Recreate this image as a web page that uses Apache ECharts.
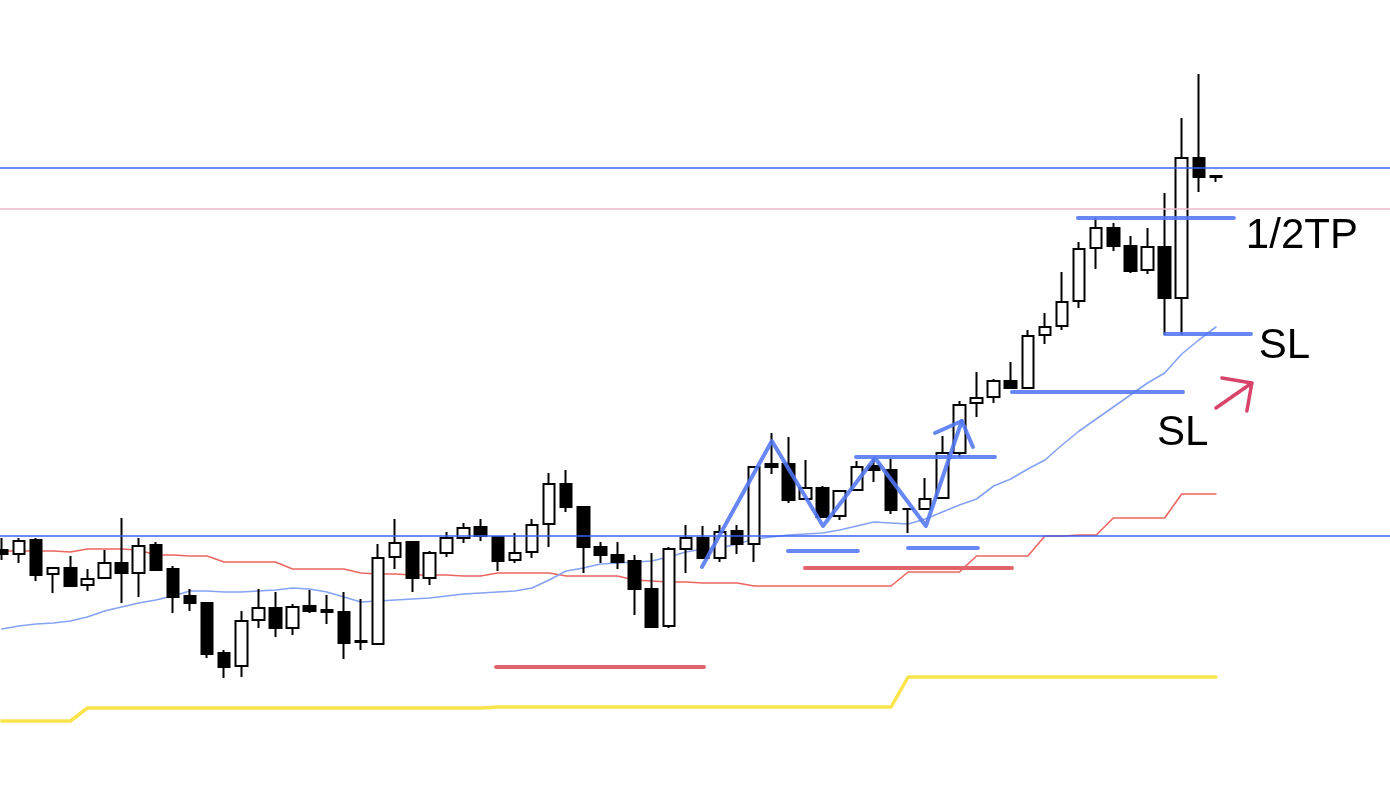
<!DOCTYPE html>
<html>
<head>
<meta charset="utf-8">
<title>chart</title>
<style>
  html, body { margin: 0; padding: 0; background: #fff; }
  #chart { width: 1390px; height: 788px; }
</style>
<script src="https://cdn.jsdelivr.net/npm/echarts@6/dist/echarts.min.js"></script>
</head>
<body>
<div id="chart"></div>
<script>
// bars: [open, close, low, high], x = bar index
const candles = [
  [238, 234, 228, 250], [234, 247, 225, 250], [248, 213, 207, 250], [214, 220, 195, 221],
  [220, 202, 202, 232], [203, 209, 197, 219], [210, 225, 210, 238], [225, 215, 185, 270],
  [215, 242, 191, 250], [243, 218, 218, 246], [219, 191, 175, 222], [192, 185, 177, 199],
  [185, 134, 130, 185], [135, 121, 110, 138], [122, 167, 111, 177], [168, 180, 160, 199],
  [180, 160, 151, 196], [160, 181, 153, 184], [182, 177, 175, 198], [178, 176, 164, 193],
  [176, 145, 129, 196], [146, 147, 138, 189], [144, 230, 144, 244], [231, 245, 219, 269],
  [246, 210, 196, 246], [210, 235, 203, 237], [235, 250, 231, 256], [250, 260, 245, 265],
  [261, 252, 247, 269], [251, 227, 217, 251], [228, 235, 225, 255], [236, 263, 230, 269],
  [264, 304, 241, 315], [304, 281, 276, 318], [281, 241, 215, 281], [241, 233, 225, 246],
  [233, 226, 219, 246], [227, 199, 173, 233], [199, 161, 161, 235], [162, 239, 160, 241],
  [239, 250, 215, 263], [250, 230, 230, 262], [230, 256, 226, 263], [257, 244, 234, 263],
  [244, 321, 226, 321], [324, 321, 314, 355], [324, 288, 285, 351], [289, 300, 289, 328],
  [300, 271, 271, 302], [272, 297, 268, 297], [298, 321, 298, 327], [322, 318, 306, 330],
  [318, 278, 274, 329], [279, 279, 255, 280], [279, 289, 279, 310], [290, 335, 290, 352],
  [335, 383, 331, 387], [385, 390, 371, 416], [391, 407, 385, 409], [407, 400, 400, 426],
  [400, 452, 400, 458], [453, 461, 444, 475], [462, 486, 458, 516], [487, 539, 480, 546],
  [540, 560, 519, 570], [560, 542, 537, 565], [542, 517, 515, 552], [518, 541, 514, 560],
  [541, 490, 453, 595], [490, 630, 453, 670], [630, 611, 596, 714], [612, 611, 606, 612]
];

const redLine = [
  237, 237, 237, 237, 236, 239, 239, 239, 238, 233, 233, 232, 232, 226, 226, 226,
  226, 219, 219, 219, 219, 215, 214, 214, 213, 213, 213, 212, 212, 215, 215, 215,
  215, 212, 212, 212, 212, 208, 207, 206, 206, 205, 205, 205, 202, 202, 202, 202,
  202, 202, 202, 202, 202, 216, 216, 216, 216, 232, 232, 232, 232, 252, 252, 253,
  253, 270, 270, 270, 270, 294, 294, 294
];

const blueLine = [
  159, 162, 164, 165, 167, 171, 177, 181, 185, 188, 192, 197, 197, 196, 196, 197,
  198, 200, 199, 196, 191, 186, 187, 188, 189, 190, 192, 194, 195, 196, 197, 200,
  208, 217, 220, 224, 225, 226, 227, 231, 236, 239, 240, 244, 249, 251, 253, 254,
  255, 258, 262, 266, 265, 264, 269, 276, 283, 289, 302, 309, 319, 328, 343, 357,
  369, 381, 393, 405, 415, 434, 448, 461
];

const yellowLine = [
  67, 67, 67, 67, 67, 80, 80, 80, 80, 80, 80, 80, 80, 80, 80, 80,
  80, 80, 80, 80, 80, 80, 80, 80, 80, 80, 80, 80, 80, 81, 81, 81,
  81, 81, 81, 81, 81, 81, 81, 81, 81, 81, 81, 81, 81, 81, 81, 81,
  81, 81, 81, 81, 81, 111, 111, 111, 111, 111, 111, 111, 111, 111, 111, 111,
  111, 111, 111, 111, 111, 111, 111, 111
];

const blueLevels = [620, 252];
const pinkLevels = [579];

// [fromX, toX, y]
const blueSegments = [
  [45.97, 50.06, 237], [52.99, 57.08, 240], [49.95, 58.08, 331],
  [59.07, 69.07, 396], [62.93, 72.05, 570], [68.02, 73.05, 454]
];
const redSegments = [[28.9, 41.06, 121], [46.96, 59.07, 220]];

const zigzag = [[40.94, 221], [45.03, 347], [48.02, 262], [51.06, 330], [54.04, 262], [56.14, 367]];
const zigzagHead = [[54.57, 355], [56.14, 367], [56.79, 341]];
const redArrow = [[71.0, 380], [73.1, 405]];
const redArrowHead = [[71.35, 410], [73.1, 405], [72.81, 377]];

const labels = [
  { text: '1/2TP', x: 72.75, y: 552 },
  { text: 'SL', x: 73.51, y: 442 },
  { text: 'SL', x: 67.55, y: 355 }
];

const chart = echarts.init(document.getElementById('chart'));

const penBlue = 'rgba(82, 120, 242, 0.88)';
const penRed = '#e0646a';

function stroke(points, color, width, z) {
  return {
    type: 'line',
    data: points,
    showSymbol: false,
    silent: true,
    z: z,
    lineStyle: { color: color, width: width, cap: 'round', join: 'round' }
  };
}

const series = [
  stroke(yellowLine.map((v, i) => [i, v]), '#f9e44c', 3.5, 2),
  stroke(redLine.map((v, i) => [i, v]), '#ec665f', 1.6, 2),
  stroke(blueLine.map((v, i) => [i, v]), '#85a2f5', 1.6, 2),
  {
    type: 'candlestick',
    data: candles.map((c, i) => [i].concat(c)),
    encode: { x: 0, y: [1, 2, 3, 4] },
    barWidth: 12,
    z: 3,
    itemStyle: {
      color: '#ffffff',
      color0: '#000000',
      borderColor: '#000000',
      borderColor0: '#000000',
      borderWidth: 2
    },
    markLine: {
      silent: true,
      symbol: 'none',
      z: 4,
      label: { show: false },
      data: blueLevels.map(v => ({ yAxis: v, lineStyle: { color: '#3d5ff0', width: 1.5, type: 'solid' } }))
        .concat(pinkLevels.map(v => ({ yAxis: v, lineStyle: { color: '#eebccc', width: 1.5, type: 'solid' } })))
    }
  }
];

redSegments.forEach(s => series.push(stroke([[s[0], s[2]], [s[1], s[2]]], penRed, 4, 5)));
blueSegments.forEach(s => series.push(stroke([[s[0], s[2]], [s[1], s[2]]], penBlue, 4, 6)));
series.push(stroke(zigzag, penBlue, 4, 6));
series.push(stroke(zigzagHead, penBlue, 4, 6));
series.push(stroke(redArrow, '#d8436a', 3.5, 6));
series.push(stroke(redArrowHead, '#d8436a', 3.5, 6));

series.push({
  type: 'scatter',
  symbolSize: 0,
  silent: true,
  z: 7,
  itemStyle: { opacity: 1 },
  data: labels.map(l => ({ name: l.text, value: [l.x, l.y] })),
  label: {
    show: true,
    position: 'right',
    distance: 0,
    formatter: '{b}',
    color: '#000000',
    opacity: 1,
    fontSize: 42,
    fontFamily: 'Liberation Sans, Arial, sans-serif'
  }
});

chart.setOption({
  animation: false,
  backgroundColor: '#ffffff',
  grid: { left: 0, right: 0, top: 0, bottom: 0 },
  xAxis: { type: 'value', min: -0.11, max: 81.18, show: false },
  yAxis: { type: 'value', min: 0, max: 788, show: false },
  series: series
});
</script>
</body>
</html>
